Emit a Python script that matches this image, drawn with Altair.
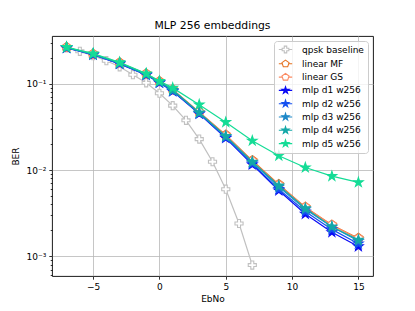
import altair as alt
import pandas as pd

# ---------------- data ----------------
ebno_qpsk = [-7, -6, -5, -4, -3, -2, -1, 0, 1, 2, 3, 4, 5, 6, 7]
ber_qpsk = [0.262, 0.239, 0.213, 0.186, 0.158, 0.128, 0.103, 0.078, 0.056,
            0.0378, 0.0229, 0.0125, 0.0060, 0.0024, 0.00079]

ebno = [-7, -5, -3, -1, 0, 1, 3, 5, 7, 9, 11, 13, 15]
ber_linear_mf = [0.265, 0.222, 0.176, 0.131, 0.107, 0.086, 0.047, 0.0255, 0.0129, 0.0068, 0.0037, 0.0023, 0.00162]
ber_linear_gs = [0.265, 0.222, 0.175, 0.130, 0.106, 0.085, 0.047, 0.0252, 0.0127, 0.0067, 0.0037, 0.0023, 0.00160]
ber_d1 = [0.262, 0.218, 0.171, 0.127, 0.103, 0.082, 0.045, 0.0235, 0.0116, 0.0058, 0.0031, 0.0019, 0.0013]
ber_d2 = [0.263, 0.219, 0.172, 0.128, 0.104, 0.083, 0.0455, 0.0240, 0.0119, 0.0060, 0.0033, 0.00205, 0.0014]
ber_d3 = [0.264, 0.221, 0.174, 0.129, 0.105, 0.084, 0.046, 0.0245, 0.0123, 0.0064, 0.0035, 0.0022, 0.0015]
ber_d4 = [0.265, 0.222, 0.175, 0.130, 0.106, 0.085, 0.0465, 0.0248, 0.0125, 0.0066, 0.0036, 0.0022, 0.00155]
ber_d5 = [0.268, 0.225, 0.178, 0.132, 0.108, 0.090, 0.0575, 0.036, 0.0219, 0.0147, 0.0107, 0.0085, 0.0072]

series_names = ["qpsk baseline", "linear MF", "linear GS", "mlp d1 w256",
                "mlp d2 w256", "mlp d3 w256", "mlp d4 w256", "mlp d5 w256"]
series_x = [ebno_qpsk, ebno, ebno, ebno, ebno, ebno, ebno, ebno]
series_y = [ber_qpsk, ber_linear_mf, ber_linear_gs, ber_d1, ber_d2, ber_d3, ber_d4, ber_d5]
series_colors = ["#c0c0c0", "#e5711f", "#fb8a62", "#0a0af5", "#1450f0",
                 "#1e88c8", "#14a8a8", "#14dc96"]
series_fills = ["#ffffff", "#ffffff", "#ffffff", "#0a0af5", "#1450f0",
                "#1e88c8", "#14a8a8", "#14dc96"]
series_marker = ["plus", "pentagon", "pentagon", "star", "star", "star", "star", "star"]

x_ticks = [-5, 0, 5, 10, 15]
y_ticks = [0.0006, 0.0007, 0.0008, 0.0009, 0.001,
           0.002, 0.003, 0.004, 0.005, 0.006, 0.007, 0.008, 0.009, 0.01,
           0.02, 0.03, 0.04, 0.05, 0.06, 0.07, 0.08, 0.09, 0.1,
           0.2, 0.3]
x_domain = [-8.1, 16.1]
y_domain = [0.00059, 0.36]

# ---------------- marker paths (unit box) ----------------
STAR = ("M0,-1L0.225,-0.309L0.951,-0.309L0.363,0.118L0.588,0.809L0,0.382"
        "L-0.588,0.809L-0.363,0.118L-0.951,-0.309L-0.225,-0.309Z")
PENT = "M0,-1L0.951,-0.309L0.588,0.809L-0.588,0.809L-0.951,-0.309Z"
PLUS = ("M-0.9,-0.33L-0.33,-0.33L-0.33,-0.9L0.33,-0.9L0.33,-0.33L0.9,-0.33"
        "L0.9,0.33L0.33,0.33L0.33,0.9L-0.33,0.9L-0.33,0.33L-0.9,0.33Z")
marker_path = {"star": STAR, "pentagon": PENT, "plus": PLUS}
legend_line = {"star": "M-1.8,0L1.8,0",
               "pentagon": "M-1.8,0L-0.85,0M0.85,0L1.8,0",
               "plus": "M-1.8,0L-0.9,0M0.9,0L1.8,0"}
legend_paths = [legend_line[m] + marker_path[m] for m in series_marker]

rows = []
for name, xs, ys in zip(series_names, series_x, series_y):
    for xv, yv in zip(xs, ys):
        rows.append({"series": name, "ebno": xv, "ber": yv})
df = pd.DataFrame(rows)

FONT = "DejaVu Sans"
decade = "abs(log(datum.value)/LN10 - round(log(datum.value)/LN10)) < 0.001"

x_axis = alt.Axis(
    values=x_ticks,
    labelExpr="replace(format(datum.value, 'd'), '-', '−')",
    grid=True, gridColor="#b8b8b8", gridWidth=0.8,
    domain=False, tickSize=3.2, tickColor="black", tickWidth=0.8,
    labelFont=FONT, labelFontSize=9, labelColor="black", labelPadding=3,
    titleFont=FONT, titleFontSize=9, titleFontWeight="normal", titleColor="black",
    titleY=22, titleBaseline="middle",
)
y_axis = alt.Axis(
    values=y_ticks,
    labelExpr=("abs(log(datum.value)/LN10 + 1) < 0.01 ? '10⁻¹' : "
               "abs(log(datum.value)/LN10 + 2) < 0.01 ? '10⁻²' : "
               "abs(log(datum.value)/LN10 + 3) < 0.01 ? '10⁻³' : ''"),
    grid=True, gridColor="#b8b8b8", gridWidth=0.8,
    gridOpacity={"condition": {"test": decade, "value": 1}, "value": 0},
    tickSize={"condition": {"test": decade, "value": 3.2}, "value": 1.8},
    domain=False, tickColor="black", tickWidth=0.8,
    labelFont=FONT, labelFontSize=9, labelColor="black", labelPadding=3,
    titleFont=FONT, titleFontSize=9, titleFontWeight="normal", titleColor="black",
    titleX=-37, titleBaseline="middle",
)

xenc = alt.X("ebno:Q", scale=alt.Scale(domain=x_domain, nice=False, zero=False),
             axis=x_axis, title="EbNo")
yenc = alt.Y("ber:Q", scale=alt.Scale(type="log", domain=y_domain, nice=False),
             axis=y_axis, title="BER")

base = alt.Chart(df)
layers = []
for name, color, fill, m in zip(series_names, series_colors, series_fills, series_marker):
    sub = base.transform_filter(alt.datum.series == name)
    layers.append(sub.mark_line(color=color, strokeWidth=1.2).encode(x=xenc, y=yenc))
    size = 81 if m == "plus" else 100
    layers.append(sub.mark_point(shape=marker_path[m], size=size, filled=True,
                                 fill=fill, stroke=color, strokeWidth=1.1,
                                 opacity=1, fillOpacity=1).encode(x=xenc, y=yenc))

leg = alt.Legend(
    title=None, orient="none", legendX=222, legendY=5,
    labelFont=FONT, labelFontSize=9, labelColor="black",
    padding=4, symbolOffset=3, labelOffset=12, rowPadding=1.3,
    fillColor="rgba(255,255,255,0.8)", strokeColor="#cccccc", cornerRadius=3,
    symbolSize=55, symbolStrokeWidth=1.1,
)
legend_layer = base.transform_filter("false").mark_point(
    filled=True, strokeWidth=1.1, opacity=1
).encode(
    shape=alt.Shape("series:N", scale=alt.Scale(domain=series_names, range=legend_paths), legend=leg),
    fill=alt.Fill("series:N", scale=alt.Scale(domain=series_names, range=series_fills), legend=leg),
    stroke=alt.Stroke("series:N", scale=alt.Scale(domain=series_names, range=series_colors), legend=leg),
)

chart = alt.layer(*layers, legend_layer).properties(
    width=321, height=240,
    title=alt.Title("MLP 256 embeddings", font=FONT, fontSize=10.8,
                    fontWeight="normal", color="black", anchor="middle", offset=5),
    autosize=alt.AutoSizeParams(type="none"),
    padding={"left": 44, "top": 28, "right": 34, "bottom": 27},
).configure_view(stroke="black", strokeWidth=0.9)

chart.save("out.html", embed_options={"renderer": "svg", "actions": False})
